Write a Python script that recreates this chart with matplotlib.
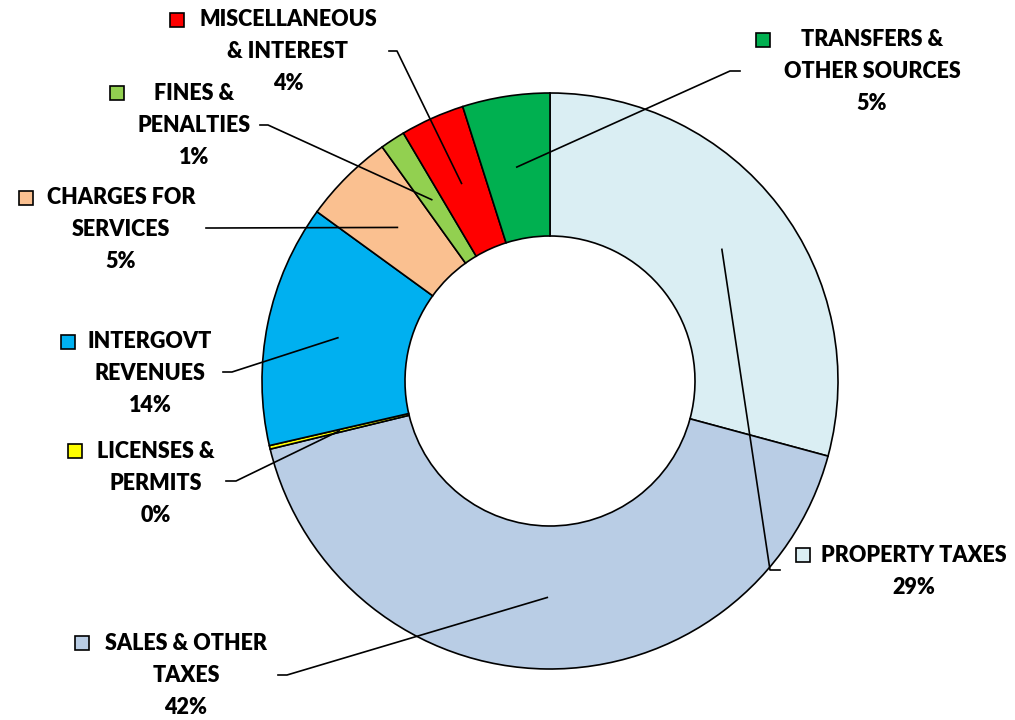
import numpy as np
import matplotlib
matplotlib.use("Agg")
import matplotlib.pyplot as plt

# ==== data (clockwise from 12 o'clock) ====
categories = ["PROPERTY TAXES", "SALES & OTHER\nTAXES", "LICENSES &\nPERMITS",
              "INTERGOVT\nREVENUES", "CHARGES FOR\nSERVICES", "FINES &\nPENALTIES",
              "MISCELLANEOUS\n& INTEREST", "TRANSFERS &\nOTHER SOURCES"]
values = [29.2, 42.0, 0.2, 13.6, 5.1, 1.4, 3.6, 4.9]
colors = ["#DAEEF3", "#B9CDE5", "#FFFF00", "#00B0F0",
          "#FAC090", "#92D050", "#FF0000", "#00B050"]

# ==== layout (pixel coords, y from top) ====
CX, CY, R, W = 550, 381, 288, 143
# text centre x, first line y, marker x, elbow point, line end at label
label_layout = [
    (914, 555, 803, (770, 570), (780, 570)),
    (186, 643,  82, (287, 675), (278, 675)),
    (156, 451,  75, (236, 481), (226, 481)),
    (150, 342,  68, (232, 372), (223, 372)),
    (121, 198,  26, (215, 228), (206, 228)),
    (194,  93, 117, (268, 125), (260, 125)),
    (288,  20, 177, (397,  51), (389,  51)),
    (872,  40, 763, (730,  71), (740,  71)),
]
LINE_H = 32

fig = plt.figure(figsize=(10.15, 7.2), dpi=100)
ax = fig.add_axes([0, 0, 1, 1])

# flipped y: counterclock in data space == clockwise on screen, -90 == top
wedges, _ = ax.pie(values, colors=colors, center=(CX, CY), radius=R,
                   startangle=-90, counterclock=True, frame=True,
                   wedgeprops=dict(width=W, edgecolor="black", linewidth=1.2))
ax.set_xlim(0, 1015)
ax.set_ylim(720, 0)
ax.set_aspect("equal")
ax.axis("off")

total = sum(values)
font = dict(family=["Lato", "DejaVu Sans"], weight="heavy", fontsize=15.5)
for w, name, v, col, (tx, ty, mx, elbow, end) in zip(wedges, categories, values, colors, label_layout):
    mid = np.deg2rad((w.theta1 + w.theta2) / 2)
    rm = R - W / 2
    px, py = CX + rm * np.cos(mid), CY + rm * np.sin(mid)
    ax.plot([px, elbow[0], end[0]], [py, elbow[1], end[1]], color="black", lw=1.2)
    lines = name.split("\n") + ["%d%%" % round(v / total * 100)]
    for i, ln in enumerate(lines):
        ax.text(tx, ty + i * LINE_H, ln, ha="center", va="center", **font)
    ax.plot([mx], [ty], marker="s", ms=10, mfc=col, mec="black", mew=1.2)

fig.savefig("out.png", dpi=100, facecolor="white")
